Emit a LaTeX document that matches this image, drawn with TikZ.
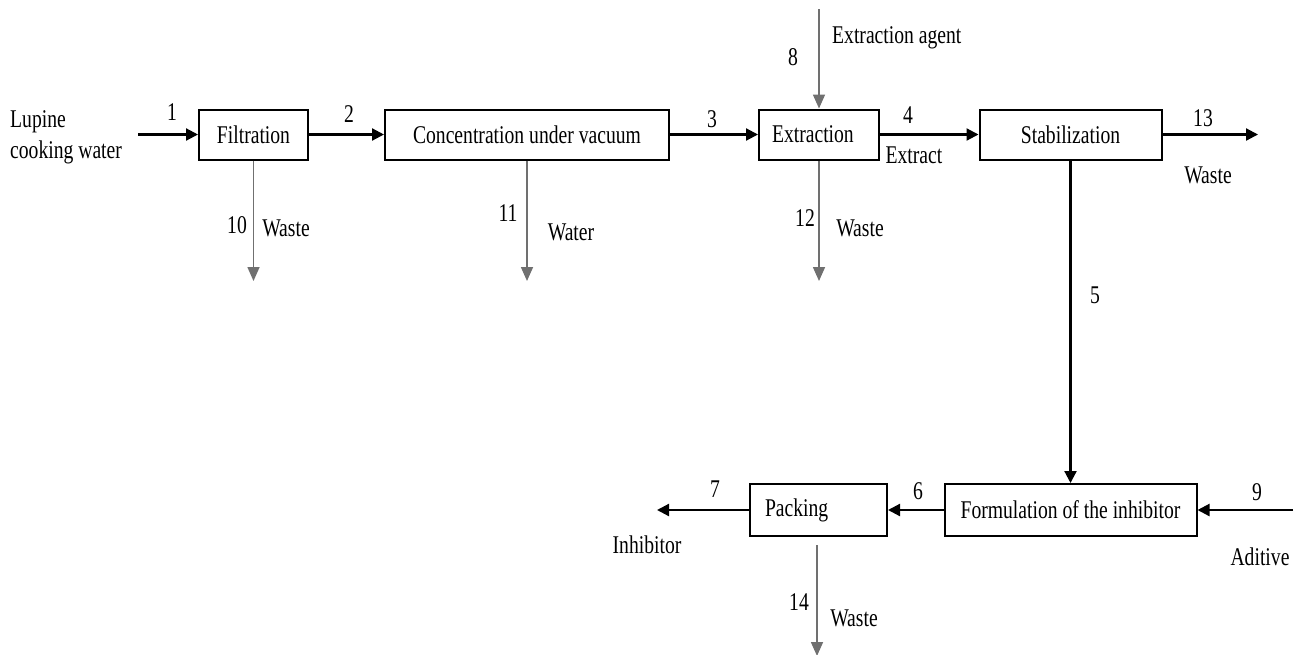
\documentclass[tikz,border=0pt]{standalone}
\usepackage{fontspec}
\setmainfont{Liberation Serif}[FakeStretch=0.77]
\usetikzlibrary{arrows.meta}
\definecolor{sidegray}{RGB}{112,112,112}
\begin{document}
\begin{tikzpicture}[x=1pt,y=-1pt,
  font=\fontsize{25.5}{31}\selectfont,
  unit/.style={draw=black, line width=2pt, minimum height=50pt, inner sep=0pt},
  flow/.style={draw=black, line width=2.2pt, -{Triangle[length=12pt,width=12pt]}},
  side/.style={draw=sidegray, line width=1.6pt, -{Triangle[length=14pt,width=12pt,fill=sidegray]}},
  tag/.style={inner sep=0pt}]
\useasboundingbox (0,0) rectangle (1295,654);

% process units
\node[unit, minimum width=109pt] (filt) at (253.5,134.5) {Filtration};
\node[unit, minimum width=284pt] (conc) at (527,134.5) {Concentration under vacuum};
\node[unit, minimum width=120pt, inner xsep=13pt, text width=94pt, align=left] (extr) at (819,134.5) {Extraction};
\node[unit, minimum width=182pt] (stab) at (1070.5,134.5) {Stabilization};
\node[unit, minimum width=252pt, minimum height=52pt] (form) at (1070.5,510) {Formulation of the inhibitor};
\node[unit, minimum width=137pt, minimum height=52pt, inner xsep=15pt, text width=107pt, align=left] (pack) at (818.5,510) {Packing};

% free stream ends
\coordinate (in1) at (138,134.5);
\coordinate (in8) at (819,9);
\coordinate (out13) at (1258,134.5);
\coordinate (out10) at (253.5,281);
\coordinate (out11) at (527,281);
\coordinate (out12) at (819,281);
\coordinate (in9) at (1293,510);
\coordinate (out7) at (657,510);
\coordinate (s14) at (817,545);
\coordinate (out14) at (817,656);

% main streams
\draw[flow] (in1) -- (filt.west);
\draw[flow] (filt.east) -- (conc.west);
\draw[flow] (conc.east) -- (extr.west);
\draw[flow] (extr.east) -- (stab.west);
\draw[flow] (stab.east) -- (out13);
\draw[flow] (stab.south) -- (form.north);
\draw[flow] (in9) -- (form.east);
\draw[flow] (form.west) -- (pack.east);
\draw[flow] (pack.west) -- (out7);

% side streams
\draw[side] (in8) -- (extr.north);
\draw[side] (filt.south) -- (out10);
\draw[side] (conc.south) -- (out11);
\draw[side] (extr.south) -- (out12);
\draw[side] (s14) -- (out14);

% stream labels
\node[tag, align=left, anchor=west] (feed) at (10,137) {Lupine\\cooking water};
\node[tag] (n1) at (172,112) {1};
\node[tag] (n2) at (349,114) {2};
\node[tag] (n3) at (712,119) {3};
\node[tag] (n4) at (908,115) {4};
\node[tag] (n13) at (1203,118) {13};
\node[tag] (n8) at (793,57) {8};
\node[tag, anchor=west] (agent) at (832,38) {Extraction agent};
\node[tag] (extract) at (914,155) {Extract};
\node[tag] (w13) at (1208,175) {Waste};
\node[tag] (n10) at (237,225) {10};
\node[tag] (w10) at (286,228) {Waste};
\node[tag] (n11) at (508,213) {11};
\node[tag] (water) at (571,232) {Water};
\node[tag] (n12) at (805,218) {12};
\node[tag] (w12) at (860,228) {Waste};
\node[tag] (n5) at (1095,295) {5};
\node[tag] (n9) at (1257,492) {9};
\node[tag] (aditive) at (1260,557) {Aditive};
\node[tag] (n6) at (918,491) {6};
\node[tag] (n7) at (715,489) {7};
\node[tag] (inhib) at (647,545) {Inhibitor};
\node[tag] (n14) at (799,602) {14};
\node[tag] (w14) at (854,618) {Waste};
\end{tikzpicture}
\end{document}
